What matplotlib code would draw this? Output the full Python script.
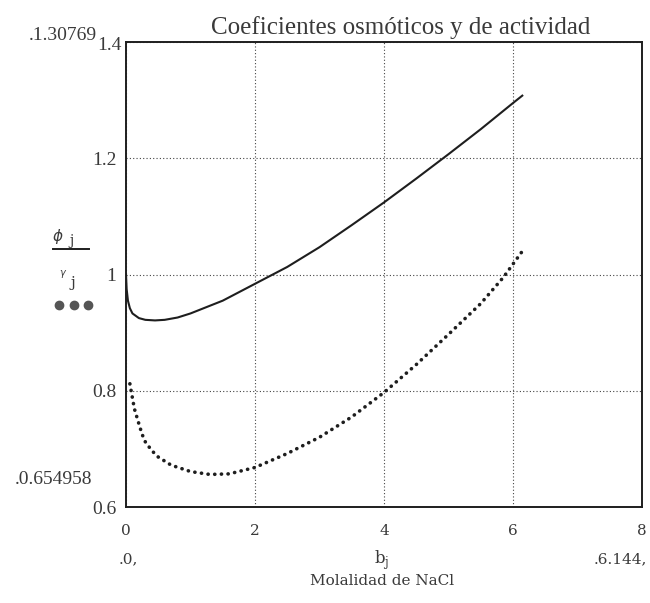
import matplotlib
matplotlib.use("Agg")
import matplotlib.pyplot as plt

# osmotic coefficient phi_j vs molality b_j
b_phi = [0.0, 0.01, 0.03, 0.06, 0.1, 0.2, 0.3, 0.45, 0.6, 0.8, 1.0, 1.5, 2.0, 2.5,
         3.0, 3.5, 4.0, 4.5, 5.0, 5.5, 6.0, 6.144]
phi = [1.0, 0.975, 0.955, 0.942, 0.933, 0.925, 0.922, 0.921, 0.922, 0.926, 0.933, 0.955,
       0.984, 1.013, 1.047, 1.085, 1.124, 1.165, 1.207, 1.250, 1.295, 1.3077]

# activity coefficient gamma_j
b_gam = [0.06, 0.13, 0.2, 0.25, 0.3, 0.4, 0.5, 0.7, 1.0, 1.3, 1.6, 2.0, 2.5, 3.0, 3.5,
         4.0, 4.5, 5.0, 5.5, 5.85, 6.144]
gam = [0.812, 0.769, 0.743, 0.725, 0.712, 0.697, 0.686, 0.672, 0.661, 0.656, 0.657,
       0.668, 0.692, 0.72, 0.755, 0.797, 0.845, 0.897, 0.95, 0.995, 1.04]

x_ticks = [0, 2, 4, 6, 8]
y_ticks = [0.6, 0.8, 1.0, 1.2, 1.4]
y_labels = ["0.6", "0.8", "1", "1.2", "1.4"]

W, H = 650, 603
fig = plt.figure(figsize=(W / 100, H / 100), dpi=100)
ax = fig.add_axes([126 / W, 1 - 507 / H, 516 / W, 465 / H])

ink = "#1e1e1e"
txt = "#3a3a3a"

ax.plot(b_phi, phi, color=ink, lw=1.5)
ax.plot(b_gam, gam, color=ink, lw=2.6, linestyle=(0, (0.05, 1.8)),
        dash_capstyle="round")

ax.set_xlim(0, 8)
ax.set_ylim(0.6, 1.4)
ax.set_xticks(x_ticks)
ax.set_yticks(y_ticks)
ax.set_xticklabels([str(v) for v in x_ticks], family="DejaVu Serif", fontsize=11,
                   color=txt)
ax.set_yticklabels(y_labels, family="Liberation Serif", fontsize=14, color=txt)
ax.tick_params(axis="x", length=0, pad=12)
ax.tick_params(axis="y", length=0, pad=7)
ax.grid(True, color="#444444", lw=0.8, linestyle=(0, (1, 2)))
for s in ax.spines.values():
    s.set_color(ink)
    s.set_linewidth(1.4)

# the 1.4 label is drawn by hand next to the max value
ax.get_yticklabels()[-1].set_visible(False)


def fx(x):
    return x / W


def fy(y):
    return 1 - y / H


fig.text(fx(401), fy(34), "Coeficientes osmóticos y de actividad", family="Liberation Serif",
         fontsize=18, color=txt, ha="center", va="baseline")
fig.text(fx(97), fy(35), ".1.30769", family="Liberation Serif", fontsize=14, color=txt,
         ha="right", va="center")
fig.text(fx(122), fy(45), "1.4", family="Liberation Serif", fontsize=14, color=txt,
         ha="right", va="center")
fig.text(fx(92), fy(480), ".0.654958", family="Liberation Serif", fontsize=14, color=txt,
         ha="right", va="center")
fig.text(fx(128), fy(559), ".0,", family="DejaVu Serif", fontsize=11, color=txt,
         ha="center", va="center")
fig.text(fx(620), fy(559), ".6.144,", family="DejaVu Serif", fontsize=11, color=txt,
         ha="center", va="center")
fig.text(fx(382), fy(560), r"b$_\mathregular{j}$", family="DejaVu Serif", fontsize=12,
         color=txt, ha="center", va="center")
fig.text(fx(382), fy(581), "Molalidad de NaCl", family="DejaVu Serif", fontsize=11,
         color=txt, ha="center", va="center")

# y-axis legend-style labels
fig.text(fx(58), fy(236), r"$\phi$", fontsize=11, color=txt, ha="center", va="center")
fig.text(fx(72), fy(241), "j", family="DejaVu Serif", fontsize=10, color=txt,
         ha="center", va="center")
fig.add_artist(plt.Line2D([fx(53), fx(89)], [fy(249), fy(249)], color=ink, lw=1.4))
fig.text(fx(63), fy(274), r"$\gamma$", fontsize=7, color=txt, ha="center", va="center")
fig.text(fx(73), fy(283), "j", family="DejaVu Serif", fontsize=11, color=txt,
         ha="center", va="center")
fig.add_artist(plt.Line2D([fx(59), fx(74), fx(88)], [fy(305)] * 3, color="#555555",
                          lw=0, marker="o", markersize=6))

fig.savefig("out.png", dpi=100)
